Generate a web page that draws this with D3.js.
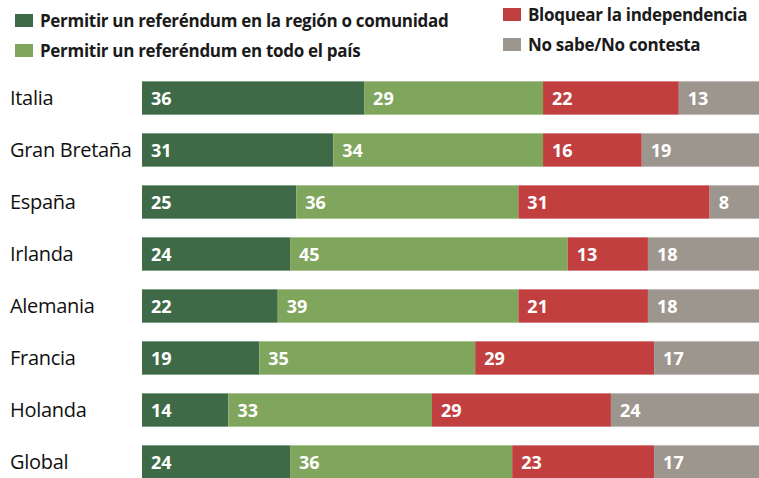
<!DOCTYPE html>
<html><head><meta charset="utf-8">
<script src="https://cdn.jsdelivr.net/npm/d3@7"></script>
<style>
html,body{margin:0;padding:0;background:#fff;}
svg{display:block;}
text{font-family:"Open Sans","Noto Sans",sans-serif;}
</style></head>
<body><svg id="c" width="759" height="478"></svg>
<script>
const countries = ["Italia","Gran Bretaña","España","Irlanda","Alemania","Francia","Holanda","Global"];
const seriesNames = ["Permitir un referéndum en la región o comunidad","Permitir un referéndum en todo el país","Bloquear la independencia","No sabe/No contesta"];
const regionVals = [36,31,25,24,22,19,14,24];
const paisVals   = [29,34,36,45,39,35,33,36];
const bloquearVals = [22,16,31,13,21,29,29,23];
const nsncVals   = [13,19,8,18,18,17,24,17];
const colors = ["#3e6a48","#80a55c","#c23f3f","#9d968f"];

const svg = d3.select("#c");
const rows = countries.map((c,i)=>({country:c, s0:regionVals[i], s1:paisVals[i], s2:bloquearVals[i], s3:nsncVals[i]}));
const keys = ["s0","s1","s2","s3"];
const stack = d3.stack().keys(keys)(rows);

const x = d3.scaleLinear().domain([0,100]).range([142,759]);
const y = d3.scaleBand().domain(countries).range([72,488]).paddingInner(0.36).paddingOuter(0.18);

// legend
const legend = [
  {i:0,x:15,y:14},{i:1,x:15,y:44},{i:2,x:503,y:8},{i:3,x:503,y:38}
];
const lg = svg.append("g");
legend.forEach(l=>{
  lg.append("rect").attr("x",l.x).attr("y",l.y).attr("width",18).attr("height",13).attr("fill",colors[l.i]);
  lg.append("text").attr("x",l.x+25).attr("y",l.y+13).attr("font-size",17).attr("font-weight",700)
    .attr("letter-spacing",-0.3).attr("fill","#1a1a1a").text(seriesNames[l.i]);
});

// bars
const g = svg.append("g");
stack.forEach((layer,k)=>{
  const lay = g.append("g");
  lay.selectAll("rect").data(layer).join("rect")
    .attr("x",d=>x(d[0])).attr("width",d=>x(d[1])-x(d[0]))
    .attr("y",d=>y(d.data.country)).attr("height",y.bandwidth())
    .attr("fill",colors[k]);
  lay.selectAll("text").data(layer).join("text")
    .attr("x",d=>x(d[0])+9).attr("y",d=>y(d.data.country)+y.bandwidth()/2+6.5)
    .attr("font-size",18).attr("font-weight",700).attr("fill","#fff")
    .text(d=>d[1]-d[0]);
});

// country labels
svg.append("g").selectAll("text").data(countries).join("text")
  .attr("x",10).attr("y",d=>y(d)+y.bandwidth()/2+7)
  .attr("font-size",20).attr("letter-spacing",-0.3).attr("fill","#111").text(d=>d);
</script></body></html>
